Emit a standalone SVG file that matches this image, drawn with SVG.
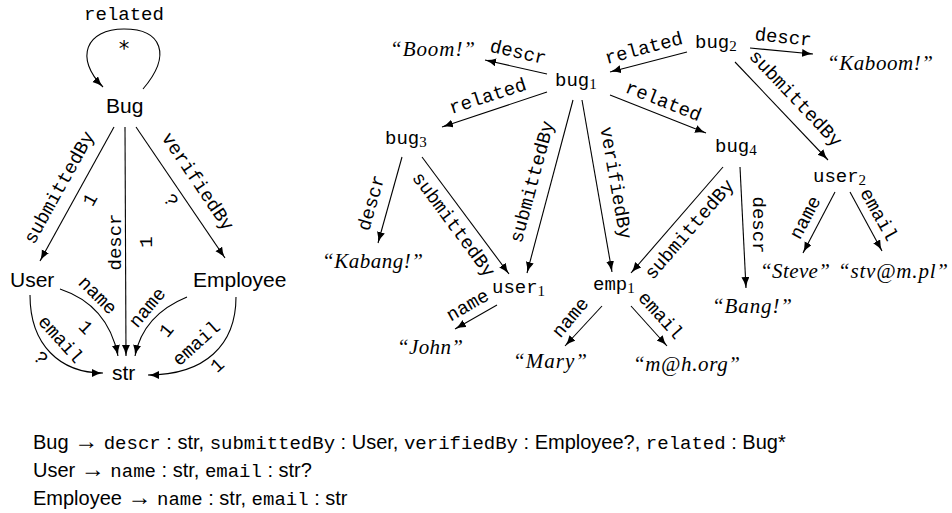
<svg xmlns="http://www.w3.org/2000/svg" width="952" height="513" viewBox="0 0 952 513">
<style>
.sans{font-family:"Liberation Sans",Arial,sans-serif;font-size:21px;fill:#000}
.mono{font-family:"Liberation Mono","Courier New",monospace;font-size:19px;fill:#000}
.lbl{font-family:"Liberation Mono","Courier New",monospace;font-size:19px;fill:#000;text-anchor:middle;dominant-baseline:central}
.lit{font-family:"Liberation Serif","Times New Roman",serif;font-style:italic;font-size:21px;fill:#000}
.sub{font-family:"Liberation Serif","Times New Roman",serif;font-size:15px}
.e{fill:none;stroke:#000;stroke-width:1.1;marker-end:url(#ah)}
.txt{font-family:"Liberation Sans",Arial,sans-serif;font-size:20px;fill:#000}
.tm{font-family:"Liberation Mono","Courier New",monospace;font-size:19px}
.arr{font-family:"Liberation Serif","Times New Roman",serif;font-size:24px}
</style>
<defs>
<marker id="ah" markerUnits="userSpaceOnUse" markerWidth="12" markerHeight="9" refX="11" refY="4" orient="auto">
<path d="M0,0 Q5,3 11,4 Q5,5 0,8 Z" fill="#000"/>
</marker>
</defs>
<rect width="952" height="513" fill="#fff"/>

<!-- left schema graph nodes -->
<g id="n-Bug"><text class="sans" x="106" y="113">Bug</text></g>
<g id="n-User"><text class="sans" x="10" y="287">User</text></g>
<g id="n-Employee"><text class="sans" x="193" y="287">Employee</text></g>
<g id="n-str"><text class="sans" x="112" y="380">str</text></g>

<!-- right instance graph nodes -->
<g id="n-bug1"><text class="mono" x="555" y="86">bug<tspan class="sub" dy="3">1</tspan></text></g>
<g id="n-bug2"><text class="mono" x="695" y="48">bug<tspan class="sub" dy="3">2</tspan></text></g>
<g id="n-bug3"><text class="mono" x="385" y="144">bug<tspan class="sub" dy="3">3</tspan></text></g>
<g id="n-bug4"><text class="mono" x="715" y="152">bug<tspan class="sub" dy="3">4</tspan></text></g>
<g id="n-user1"><text class="mono" x="492" y="293">user<tspan class="sub" dy="3">1</tspan></text></g>
<g id="n-user2"><text class="mono" x="813" y="182">user<tspan class="sub" dy="3">2</tspan></text></g>
<g id="n-emp1"><text class="mono" x="593" y="290">emp<tspan class="sub" dy="3">1</tspan></text></g>
<g id="n-boom"><text class="lit" x="390" y="56" textLength="85">“Boom!”</text></g>
<g id="n-kaboom"><text class="lit" x="827" y="70" textLength="106">“Kaboom!”</text></g>
<g id="n-kabang"><text class="lit" x="322" y="268" textLength="101">“Kabang!”</text></g>
<g id="n-john"><text class="lit" x="397" y="354" textLength="66">“John”</text></g>
<g id="n-mary"><text class="lit" x="513" y="368" textLength="74">“Mary”</text></g>
<g id="n-mh"><text class="lit" x="633" y="371" textLength="107">“m@h.org”</text></g>
<g id="n-bang"><text class="lit" x="712" y="313" textLength="80">“Bang!”</text></g>
<g id="n-steve"><text class="lit" x="760" y="278" textLength="70">“Steve”</text></g>
<g id="n-stv"><text class="lit" x="838" y="278" textLength="110">“stv@m.pl”</text></g>

<g id="connectors">
<!-- left graph -->
<path class="e" d="M143,89 C172,55 162,29 124,29 C86,29 74,58 103,87"/>
<text class="mono" x="124" y="20" text-anchor="middle">related</text>
<text x="124" y="56" text-anchor="middle" style="font-family:'DejaVu Sans Mono',monospace;font-size:21px">*</text>

<path class="e" d="M114,127 L40,261"/>
<text class="lbl" transform="translate(60,188) rotate(-61)">submittedBy</text>
<text class="lbl" transform="translate(91,200) rotate(-61)">1</text>

<path class="e" d="M125,127 L126,356"/>
<text class="lbl" transform="translate(116,242) rotate(-90)">descr</text>
<text class="lbl" transform="translate(147,242) rotate(-90)">1</text>

<path class="e" d="M136,127 L225,258"/>
<text class="lbl" transform="translate(197,182) rotate(56)">verifiedBy</text>
<text class="lbl" transform="translate(170,201) rotate(56)">?</text>

<path class="e" d="M60,289 Q108,305 118,356"/>
<text class="lbl" transform="translate(97,296) rotate(45)">name</text>
<text class="lbl" transform="translate(85,328) rotate(45)">1</text>

<path class="e" d="M187,297 Q143,315 135,356"/>
<text class="lbl" transform="translate(148,308) rotate(-50)">name</text>
<text class="lbl" transform="translate(167,331) rotate(-50)">1</text>

<path class="e" d="M30,295 C30,345 60,373 103,373"/>
<text class="lbl" transform="translate(60,340) rotate(48)">email</text>
<text class="lbl" transform="translate(40,359) rotate(48)">?</text>

<path class="e" d="M236,297 C236,345 205,375 148,375"/>
<text class="lbl" transform="translate(197,344) rotate(-42)">email</text>
<text class="lbl" transform="translate(218,366) rotate(-42)">1</text>

<!-- right graph -->
<path class="e" d="M547,74 L485,60"/>
<text class="lbl" transform="translate(518,53) rotate(13)">descr</text>

<path class="e" d="M547,92 L442,127"/>
<text class="lbl" transform="translate(488,97) rotate(-18)">related</text>

<path class="e" d="M687,52 L610,72"/>
<text class="lbl" transform="translate(644,49) rotate(-15)">related</text>

<path class="e" d="M750,48 L813,54"/>
<text class="lbl" transform="translate(783,38) rotate(6)">descr</text>

<path class="e" d="M735,62 L828,160"/>
<text class="lbl" transform="translate(795,99) rotate(46.5)">submittedBy</text>

<path class="e" d="M610,95 L706,133"/>
<text class="lbl" transform="translate(663,102) rotate(21.6)">related</text>

<path class="e" d="M573,100 L527,273"/>
<text class="lbl" transform="translate(533,182) rotate(-75)">submittedBy</text>

<path class="e" d="M582,100 L612,272"/>
<text class="lbl" transform="translate(615,183) rotate(80)">verifiedBy</text>

<path class="e" d="M402,157 L378,243"/>
<text class="lbl" transform="translate(372,203) rotate(-74)">descr</text>

<path class="e" d="M422,157 L509,274"/>
<text class="lbl" transform="translate(453,225) rotate(53.4)">submittedBy</text>

<path class="e" d="M723,167 L631,273"/>
<text class="lbl" transform="translate(690,230) rotate(-49)">submittedBy</text>

<path class="e" d="M740,167 L746,288"/>
<text class="lbl" transform="translate(758,225) rotate(90)">descr</text>

<path class="e" d="M497,305 L455,329"/>
<text class="lbl" transform="translate(468,306) rotate(-30)">name</text>

<path class="e" d="M602,306 L565,346"/>
<text class="lbl" transform="translate(571,318) rotate(-50)">name</text>

<path class="e" d="M631,306 L667,346"/>
<text class="lbl" transform="translate(660,316) rotate(48)">email</text>

<path class="e" d="M835,192 L803,253"/>
<text class="lbl" transform="translate(806,218) rotate(-62)">name</text>

<path class="e" d="M850,192 L882,251"/>
<text class="lbl" transform="translate(878,215) rotate(61)">email</text>
</g>

<!-- grammar text -->
<g id="grammar">
<text class="txt" x="33" y="449">Bug <tspan class="arr">→</tspan> <tspan class="tm">descr</tspan> : str,  <tspan class="tm">submittedBy</tspan> : User,  <tspan class="tm">verifiedBy</tspan> : Employee?,  <tspan class="tm">related</tspan> : Bug*</text>
<text class="txt" x="33" y="477">User <tspan class="arr">→</tspan> <tspan class="tm">name</tspan> : str,  <tspan class="tm">email</tspan> : str?</text>
<text class="txt" x="33" y="505">Employee <tspan class="arr">→</tspan> <tspan class="tm">name</tspan> : str,  <tspan class="tm">email</tspan> : str</text>
</g>
</svg>
